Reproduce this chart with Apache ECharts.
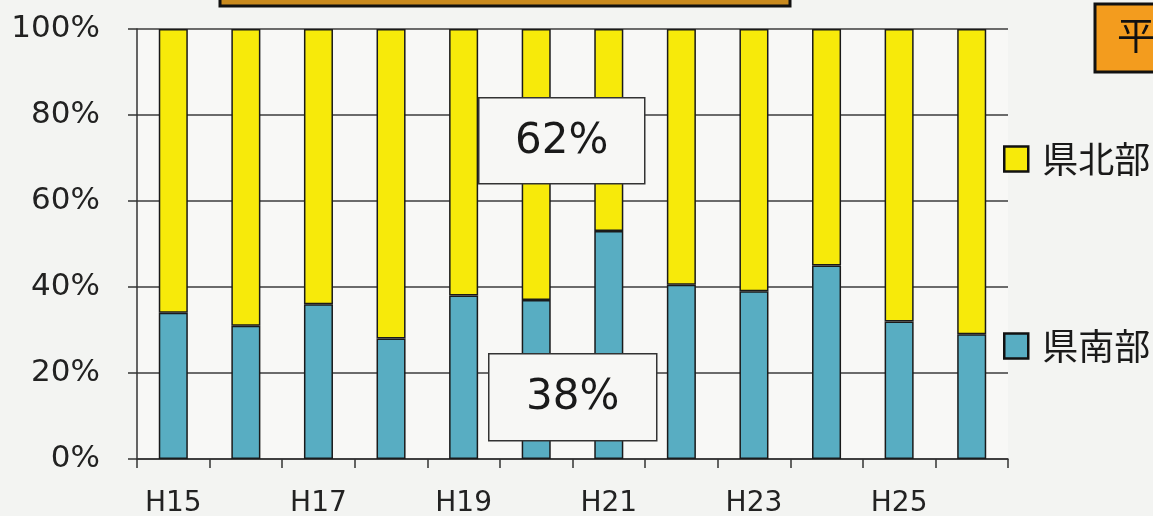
<!DOCTYPE html>
<html>
<head>
<meta charset="utf-8">
<script src="https://cdn.jsdelivr.net/npm/echarts@6/dist/echarts.min.js"></script>
<style>
  html, body { margin: 0; padding: 0; background: #f3f4f2; }
  #main { width: 1153px; height: 516px; }
</style>
</head>
<body>
<div id="main"></div>
<script>
// 年度
var years = ['H15', 'H16', 'H17', 'H18', 'H19', 'H20', 'H21', 'H22', 'H23', 'H24', 'H25', 'H26'];
// 県南部の割合(%)
var south = [34, 31, 36, 28, 38, 37, 53, 40.5, 39, 45, 32, 29];
// 県北部の割合(%)
var north = [66, 69, 64, 72, 62, 63, 47, 59.5, 61, 55, 68, 71];
// 平均
var avgNorth = '62%';
var avgSouth = '38%';

var myChart = echarts.init(document.getElementById('main'));

var latinFont = '"DejaVu Sans", Verdana, sans-serif';
var cjkFont = '"Noto Sans CJK JP", sans-serif';

//平均ラベルの枠
function avgBox (left, top, w, h, text) {
  return {
    type: 'group',
    left: left,
    top: top,
    z: 100,
    children: [
      {
        type: 'rect',
        z: 100,
        shape: { x: 0, y: 0, width: w, height: h },
        style: { fill: '#f7f7f5', stroke: '#333', lineWidth: 1.5 }
      },
      {
        type: 'text',
        z: 101,
        x: w / 2,
        y: h / 2 + 1,
        style: {
          text: text,
          fontFamily: latinFont,
          fontSize: 42,
          fill: '#1a1a1a',
          align: 'center',
          verticalAlign: 'middle'
        }
      }
    ]
  };
}

var option = {
  backgroundColor: '#f3f4f2',
  animation: false,
  grid: {
    left: 137,
    right: 145,
    top: 29,
    bottom: 57,
    outerBoundsMode: 'none',
    containLabel: false,
    show: true,
    backgroundColor: '#f8f8f6',
    borderWidth: 0
  },
  legend: {
    orient: 'vertical',
    left: 998,
    top: 129,
    itemWidth: 24,
    itemHeight: 25,
    itemGap: 137,
    icon: 'rect',
    data: ['県北部', '県南部'],
    itemStyle: { borderColor: '#111', borderWidth: 2.5 },
    textStyle: {
      fontFamily: cjkFont,
      fontSize: 36,
      color: '#1a1a1a',
      lineHeight: 40,
      padding: [0, 0, 10, 9]
    }
  },
  xAxis: {
    type: 'category',
    data: years,
    axisLine: { lineStyle: { color: '#333', width: 1.5 } },
    axisTick: { show: true, length: 9, interval: 0, lineStyle: { color: '#333', width: 1.5 } },
    axisLabel: {
      interval: 1,
      margin: 31,
      fontFamily: latinFont,
      fontSize: 28,
      color: '#222'
    }
  },
  yAxis: {
    type: 'value',
    min: 0,
    max: 100,
    interval: 20,
    axisLine: { show: true, lineStyle: { color: '#333', width: 1.5 } },
    axisTick: { show: true, length: 9, lineStyle: { color: '#333', width: 1.5 } },
    splitLine: { lineStyle: { color: '#3c3c3c', width: 1.5 } },
    axisLabel: {
      margin: 37,
      formatter: '{value}%',
      fontFamily: latinFont,
      fontSize: 31,
      color: '#222'
    }
  },
  series: [
    {
      name: '県南部',
      type: 'bar',
      stack: 'total',
      barWidth: '40%',
      data: south,
      itemStyle: { color: '#58adc2', borderColor: '#1a1a1a', borderWidth: 1.5 }
    },
    {
      name: '県北部',
      type: 'bar',
      stack: 'total',
      barWidth: '40%',
      data: north,
      itemStyle: { color: '#f7ea0a', borderColor: '#1a1a1a', borderWidth: 1.5 }
    }
  ],
  graphic: [
    // 上部のタイトル枠(切れている)
    {
      type: 'rect',
      z: 100,
      shape: { x: 220, y: -12, width: 570, height: 18 },
      style: { fill: '#c98a1e', stroke: '#111', lineWidth: 3 }
    },
    // 右上のオレンジ枠
    {
      type: 'rect',
      z: 100,
      shape: { x: 1095, y: 4, width: 80, height: 68 },
      style: { fill: '#f39c1e', stroke: '#111', lineWidth: 3 }
    },
    {
      type: 'text',
      z: 101,
      x: 1136,
      y: 35,
      style: {
        text: '平',
        fontFamily: cjkFont,
        fontSize: 38,
        fill: '#111',
        align: 'center',
        verticalAlign: 'middle'
      }
    },
    avgBox(478, 97, 166, 86, avgNorth),
    avgBox(488, 353, 168, 87, avgSouth)
  ]
};

myChart.setOption(option);
</script>
</body>
</html>
